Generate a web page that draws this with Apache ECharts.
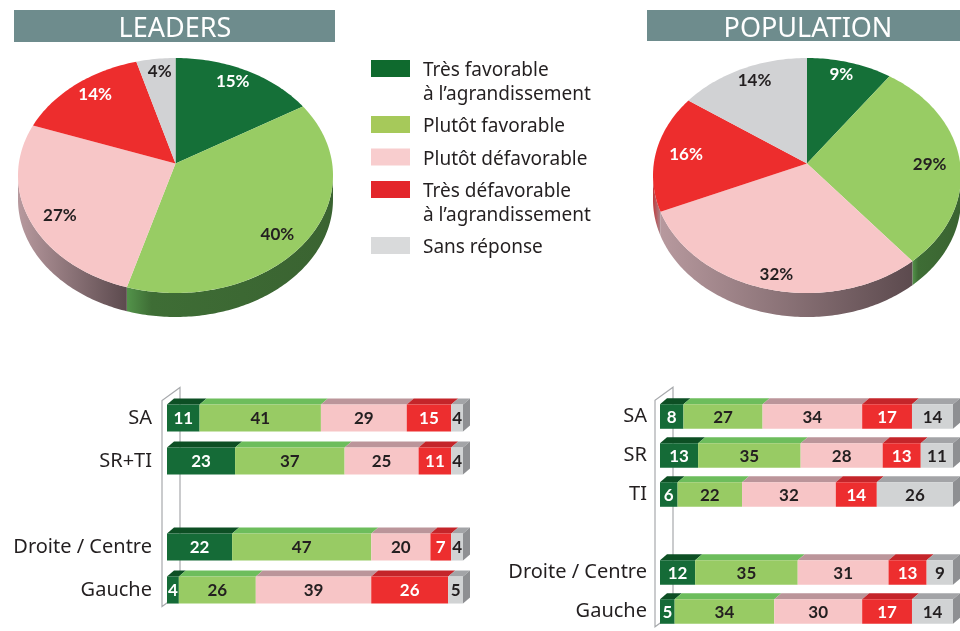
<!DOCTYPE html>
<html>
<head>
<meta charset="utf-8">
<script src="https://cdn.jsdelivr.net/npm/echarts@6/dist/echarts.min.js"></script>
<style>
  html, body { margin: 0; padding: 0; background: #fff; }
  #chart { width: 960px; height: 631px; }
</style>
</head>
<body>
<div id="chart"></div>
<script>
// --- données ---
var answers = ['Très favorable\nà l’agrandissement', 'Plutôt favorable', 'Plutôt défavorable', 'Très défavorable\nà l’agrandissement', 'Sans réponse'];

var leadersPie = [15, 40, 27, 14, 4];
var populationPie = [9, 29, 32, 16, 14];

var leadersCats = ['SA', 'SR+TI', '', 'Droite / Centre', 'Gauche'];
var leadersTresFav = [11, 23, null, 22, 4];
var leadersPlutotFav = [41, 37, null, 47, 26];
var leadersPlutotDef = [29, 25, null, 20, 39];
var leadersTresDef = [15, 11, null, 7, 26];
var leadersSansRep = [4, 4, null, 4, 5];

var popCats = ['SA', 'SR', 'TI', '', 'Droite / Centre', 'Gauche'];
var popTresFav = [8, 13, 6, null, 12, 5];
var popPlutotFav = [27, 35, 22, null, 35, 34];
var popPlutotDef = [34, 28, 32, null, 31, 30];
var popTresDef = [17, 13, 14, null, 13, 17];
var popSansRep = [14, 11, 26, null, 9, 14];

// --- styles ---
var TXT = '#231f20';
var FONT = '"Noto Sans", sans-serif';
var NUMFONT = 'bold 17px Lato, "Noto Sans", sans-serif';
var pieColors = ['#157038', '#98cc64', '#f7c6c7', '#ed2d2d', '#d1d2d4'];
var frontColors = ['#156b37', '#98cb64', '#f7c5c6', '#ed2e2f', '#d1d3d4'];
var topColors = ['#0d4f24', '#6dbd5c', '#bb959a', '#c4252a', '#a3a4a7'];
var legendColors = ['#0f6a2e', '#a6c95a', '#f8cdce', '#e3262b', '#d9dadb'];
var labelColors = ['#fff', TXT, TXT, '#fff', TXT];
var sideStops = [
  [['#0d4a22', 0], ['#0a3b1b', 1]],
  [['#53934a', 0], ['#3e6d35', 0.12], ['#3a6331', 1]],
  [['#b7999e', 0], ['#5c4a4e', 1]],
  [['#c0393c', 0], ['#a8898f', 1]],
  [['#a3a4a7', 0], ['#7d7e81', 1]]
];

function buildRows(cols) {
  var rows = [];
  for (var i = 0; i < cols[0].length; i++) {
    if (cols[0][i] == null) continue;
    rows.push([i].concat(cols.map(function (c) { return c[i]; })));
  }
  return rows;
}

// camembert "3D" elliptique
function pieSeries(values, cx, cy, rx, ry) {
  var total = values.reduce(function (s, v) { return s + v; }, 0);
  var depth = 24, apex = [cx, cy - 12];
  function pt(deg, off) {
    var r = deg * Math.PI / 180;
    return [cx + rx * Math.sin(r), cy - ry * Math.cos(r) + (off || 0)];
  }
  function arc(a, b, off) {
    var pts = [], n = Math.max(2, Math.ceil(Math.abs(b - a)));
    for (var k = 0; k <= n; k++) pts.push(pt(a + (b - a) * k / n, off));
    return pts;
  }
  return {
    type: 'custom',
    coordinateSystem: 'none',
    data: values,
    renderItem: function (params, api) {
      var i = params.dataIndex, start = 0;
      for (var j = 0; j < i; j++) start += values[j];
      var a0 = start / total * 360, a1 = (start + api.value(0)) / total * 360;
      var children = [];
      var s = Math.max(a0, 90), e = Math.min(a1, 270);
      if (e > s) {
        children.push({
          type: 'polygon',
          shape: { points: arc(s, e, 0).concat(arc(e, s, depth)) },
          style: {
            fill: {
              type: 'linear', x: 0, y: 0, x2: 1, y2: 0,
              colorStops: sideStops[i].map(function (c) { return { offset: c[1], color: c[0] }; })
            }
          }
        });
      }
      children.push({
        type: 'polygon',
        shape: { points: [apex].concat(arc(a0, a1, 0)) },
        style: { fill: pieColors[i] }
      });
      var m = pt((a0 + a1) / 2);
      children.push({
        type: 'text', z2: 10,
        style: {
          text: api.value(0) + '%',
          x: apex[0] + 0.8 * (m[0] - apex[0]),
          y: apex[1] + 0.88 * (m[1] - apex[1]),
          fill: labelColors[i], font: NUMFONT,
          align: 'center', verticalAlign: 'middle'
        }
      });
      return { type: 'group', children: children };
    }
  };
}

// barres empilées "3D"
function barItem(params, api) {
  var cat = api.value(0);
  var bh = api.size([0, 1])[1] * 0.63;
  var dx = 7, dy = 6, cum = 0, children = [];
  for (var k = 0; k < 5; k++) {
    var v = api.value(k + 1);
    var a = api.coord([cum, cat]);
    var b = api.coord([cum + v, cat]);
    cum += v;
    var y0 = a[1] - bh / 2;
    children.push({
      type: 'polygon',
      shape: { points: [[a[0], y0], [b[0], y0], [b[0] + dx, y0 - dy], [a[0] + dx, y0 - dy]] },
      style: { fill: topColors[k] }
    });
    children.push({
      type: 'rect',
      shape: { x: a[0], y: y0, width: b[0] - a[0], height: bh },
      style: { fill: frontColors[k] }
    });
    if (k === 4) {
      children.push({
        type: 'polygon',
        shape: { points: [[b[0], y0], [b[0] + dx, y0 - dy], [b[0] + dx, y0 + bh - dy], [b[0], y0 + bh]] },
        style: { fill: '#8e8f92' }
      });
    }
    children.push({
      type: 'text', z2: 10,
      style: {
        text: String(v), x: (a[0] + b[0]) / 2, y: a[1] + 1,
        fill: labelColors[k], font: NUMFONT,
        align: 'center', verticalAlign: 'middle'
      }
    });
  }
  return { type: 'group', children: children };
}

function wallSeries(gridIndex, firstIdx, lastIdx) {
  return {
    type: 'custom', xAxisIndex: gridIndex, yAxisIndex: gridIndex, z: 1,
    data: [[firstIdx, 0]], encode: { y: 0, x: 1 }, silent: true,
    renderItem: function (params, api) {
      var bh = api.size([0, 1])[1] * 0.63;
      var first = api.coord([0, firstIdx]), last = api.coord([0, lastIdx]);
      var x = first[0], top = first[1] - bh / 2 - 4, bot = last[1] + bh / 2 + 3;
      return {
        type: 'polygon',
        shape: { points: [[x - 5, bot], [x - 5, top], [x + 13, top - 13], [x + 13, bot - 13]] },
        style: { fill: 'none', stroke: '#a7a9ac', lineWidth: 1.2 }
      };
    }
  };
}

// légende + titres
var graphics = [
  { type: 'rect', shape: { x: 14, y: 10, width: 321, height: 32 }, style: { fill: '#6e8c8d' } },
  { type: 'text', style: { text: 'LEADERS', x: 175, y: 29, fill: '#fff', font: '27px ' + FONT, align: 'center', verticalAlign: 'middle' } },
  { type: 'rect', shape: { x: 647, y: 10, width: 313, height: 31 }, style: { fill: '#6e8c8d' } },
  { type: 'text', style: { text: 'POPULATION', x: 808, y: 29, fill: '#fff', font: '27px ' + FONT, align: 'center', verticalAlign: 'middle' } }
];
var ly = 60;
answers.forEach(function (txt, i) {
  var lines = txt.split('\n').length;
  graphics.push({ type: 'rect', shape: { x: 371, y: ly, width: 39, height: 17 }, style: { fill: legendColors[i] } });
  graphics.push({ type: 'text', style: { text: txt, x: 423, y: ly - 1, fill: TXT, font: '19px ' + FONT, lineHeight: 23.5, align: 'left', verticalAlign: 'top' } });
  ly += lines * 23.5 + 9;
});

var chart = echarts.init(document.getElementById('chart'));
chart.setOption({
  animation: false,
  graphic: graphics,
  grid: [
    { left: 167, width: 296, top: 396.5, height: 215 },
    { left: 660, width: 293, top: 397, height: 240 }
  ],
  xAxis: [
    { gridIndex: 0, type: 'value', min: 0, max: 100, show: false },
    { gridIndex: 1, type: 'value', min: 0, max: 100, show: false }
  ],
  yAxis: [
    {
      gridIndex: 0, type: 'category', data: leadersCats, inverse: true,
      axisLine: { show: false }, axisTick: { show: false }, splitLine: { show: false },
      axisLabel: { fontSize: 20, color: TXT, fontFamily: FONT, margin: 15 }
    },
    {
      gridIndex: 1, type: 'category', data: popCats, inverse: true,
      axisLine: { show: false }, axisTick: { show: false }, splitLine: { show: false },
      axisLabel: { fontSize: 20, color: TXT, fontFamily: FONT, margin: 13 }
    }
  ],
  series: [
    pieSeries(leadersPie, 175.5, 175.5, 157.5, 117.5),
    pieSeries(populationPie, 807, 175.5, 154, 117.5),
    wallSeries(0, 0, leadersCats.length - 1),
    wallSeries(1, 0, popCats.length - 1),
    {
      type: 'custom', xAxisIndex: 0, yAxisIndex: 0, z: 2,
      data: buildRows([leadersTresFav, leadersPlutotFav, leadersPlutotDef, leadersTresDef, leadersSansRep]),
      encode: { y: 0, x: 1 }, renderItem: barItem
    },
    {
      type: 'custom', xAxisIndex: 1, yAxisIndex: 1, z: 2,
      data: buildRows([popTresFav, popPlutotFav, popPlutotDef, popTresDef, popSansRep]),
      encode: { y: 0, x: 1 }, renderItem: barItem
    }
  ]
});
</script>
</body>
</html>
